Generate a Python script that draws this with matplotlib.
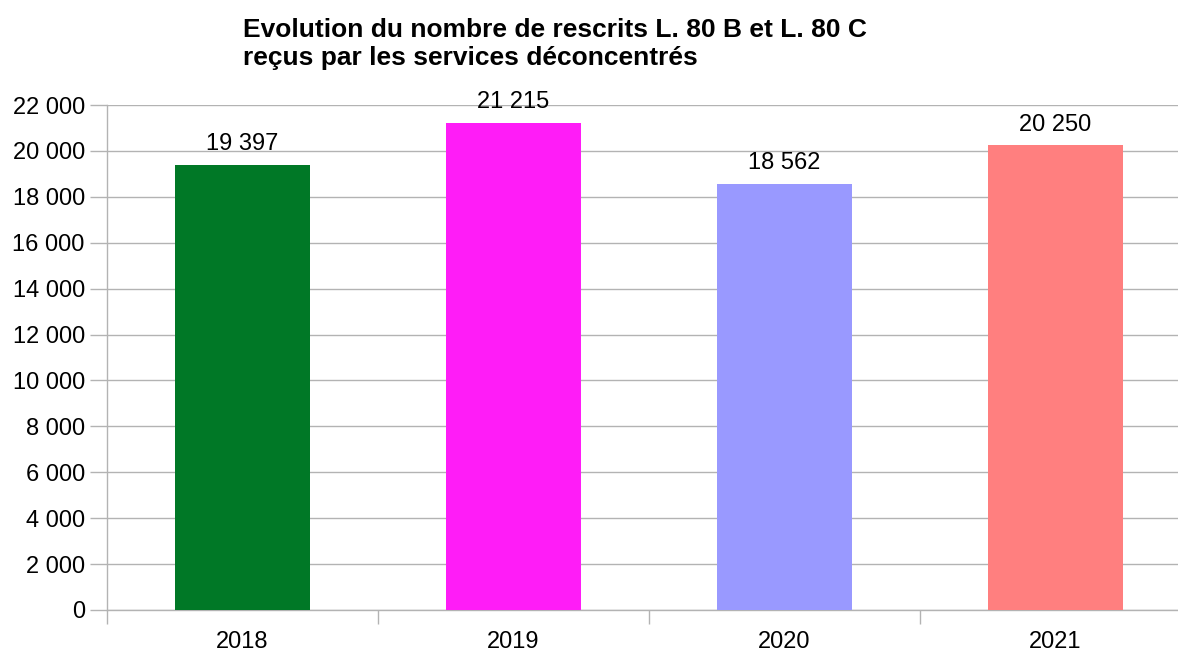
import numpy as np
import matplotlib.pyplot as plt
from matplotlib.ticker import FuncFormatter, FixedLocator

plt.rcParams['font.family'] = ['Liberation Sans', 'DejaVu Sans']

# données
annees = ['2018', '2019', '2020', '2021']
rescrits = [19397, 21215, 18562, 20250]
couleurs = ['#007826', '#FF1CF7', '#9999FF', '#FF7F7F']

W, H = 1178, 653
fig = plt.figure(figsize=(W / 100, H / 100), dpi=100)
# zone de tracé (le bord droit déborde un peu de l'image, comme l'original)
left, right, top, bottom = 107, 1191, 105, 610
ax = fig.add_axes([left / W, 1 - bottom / H, (right - left) / W, (bottom - top) / H])

x = np.arange(len(annees))
ax.bar(x, rescrits, width=0.5, color=couleurs, zorder=3)

def fmt(v, pos=None):
    return f"{int(v):,}".replace(",", " ")

for xi, v in zip(x, rescrits):
    ax.text(xi, v + 420, fmt(v), ha='center', va='bottom', fontsize=17)

ax.set_xlim(-0.5, len(annees) - 0.5)
ax.set_ylim(0, 22000)
ax.set_yticks(np.arange(0, 22001, 2000))
ax.yaxis.set_major_formatter(FuncFormatter(fmt))
ax.grid(axis='y', color='#B3B3B3', linewidth=1, zorder=0)

# ticks x aux séparations des catégories
ax.set_xticks(x)
ax.set_xticklabels(annees)
ax.xaxis.set_minor_locator(FixedLocator(np.arange(-0.5, len(annees), 1)))
ax.tick_params(axis='x', which='major', length=0, pad=15, labelsize=17)
ax.tick_params(axis='x', which='minor', length=10, color='#B3B3B3', width=1)
ax.tick_params(axis='y', length=12, color='#B3B3B3', width=1, pad=4, labelsize=17)

for s in ['top', 'right']:
    ax.spines[s].set_visible(False)
for s in ['left', 'bottom']:
    ax.spines[s].set_color('#B3B3B3')
    ax.spines[s].set_linewidth(1)

fig.text(243 / W, 1 - 30 / H, 'Evolution du nombre de rescrits L. 80 B et L. 80 C',
         fontsize=19, fontweight='bold', va='center', ha='left')
fig.text(243 / W, 1 - 58 / H, 'reçus par les services déconcentrés',
         fontsize=19, fontweight='bold', va='center', ha='left')

fig.savefig('out.png', dpi=100)
